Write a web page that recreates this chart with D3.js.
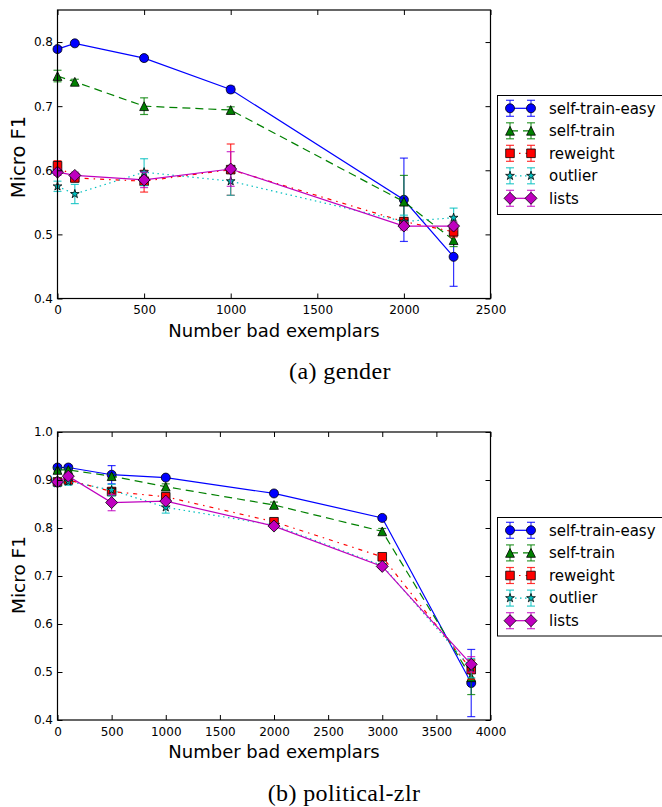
<!DOCTYPE html>
<html>
<head>
<meta charset="utf-8">
<script src="https://cdn.jsdelivr.net/npm/d3@7"></script>
<style>
  body { margin: 0; background: #fff; }
  svg { display: block; }
</style>
</head>
<body>
<svg id="fig" width="662" height="807"></svg>
<script>
// ---- data ----------------------------------------------------------------
const seriesNames = ["self-train-easy", "self-train", "reweight", "outlier", "lists"];

// (a) gender
const genderX        = [0, 100, 500, 1000, 2000, 2287];
const genderEasy     = [0.789, 0.798, 0.775, 0.726, 0.554, 0.465];
const genderEasyErr  = [0.004, 0.003, 0.004, 0.005, 0.065, 0.046];
const genderSelf     = [0.747, 0.738, 0.700, 0.694, 0.551, 0.491];
const genderSelfErr  = [0.009, 0.004, 0.013, 0.005, 0.041, 0.010];
const genderRew      = [0.607, 0.588, 0.583, 0.601, 0.520, 0.504];
const genderRewErr   = [0.008, 0.006, 0.017, 0.040, 0.006, 0.008];
const genderOut      = [0.575, 0.563, 0.597, 0.583, 0.520, 0.526];
const genderOutErr   = [0.008, 0.015, 0.021, 0.022, 0.010, 0.015];
const genderLists    = [0.597, 0.592, 0.585, 0.602, 0.513, 0.513];
const genderListsErr = [0.005, 0.005, 0.012, 0.027, 0.006, 0.006];
const genderXTicks   = [0, 500, 1000, 1500, 2000, 2500];
const genderYTicks   = [0.4, 0.5, 0.6, 0.7, 0.8];

// (b) political-zlr
const polX        = [0, 100, 500, 1000, 2000, 3000, 3822];
const polEasy     = [0.926, 0.926, 0.911, 0.905, 0.872, 0.821, 0.477];
const polEasyErr  = [0.004, 0.004, 0.019, 0.004, 0.004, 0.004, 0.070];
const polSelf     = [0.921, 0.921, 0.908, 0.886, 0.848, 0.793, 0.489];
const polSelfErr  = [0.004, 0.004, 0.004, 0.006, 0.006, 0.006, 0.036];
const polRew      = [0.896, 0.900, 0.876, 0.865, 0.813, 0.740, 0.505];
const polRewErr   = [0.006, 0.006, 0.008, 0.006, 0.004, 0.004, 0.020];
const polOut      = [0.893, 0.897, 0.879, 0.843, 0.806, 0.722, 0.508];
const polOutErr   = [0.006, 0.008, 0.012, 0.012, 0.004, 0.004, 0.020];
const polLists    = [0.896, 0.908, 0.853, 0.856, 0.804, 0.720, 0.516];
const polListsErr = [0.005, 0.005, 0.017, 0.005, 0.004, 0.004, 0.016];
const polXTicks   = [0, 500, 1000, 1500, 2000, 2500, 3000, 3500, 4000];
const polYTicks   = [0.4, 0.5, 0.6, 0.7, 0.8, 0.9, 1.0];

// ---- marker shapes (custom d3.symbol types; "size" is the half-extent) ----
const mCircle = { draw(ctx, r) { ctx.moveTo(r, 0); ctx.arc(0, 0, r, 0, 2 * Math.PI); ctx.closePath(); } };
const mTriangle = { draw(ctx, r) { ctx.moveTo(0, -r); ctx.lineTo(r, r); ctx.lineTo(-r, r); ctx.closePath(); } };
const mSquare = { draw(ctx, r) { ctx.rect(-r, -r, 2 * r, 2 * r); } };
const mDiamond = { draw(ctx, r) { ctx.moveTo(0, -r); ctx.lineTo(r, 0); ctx.lineTo(0, r); ctx.lineTo(-r, 0); ctx.closePath(); } };
const mStar = { draw(ctx, r) {
  const ri = r * 0.381966;
  for (let k = 0; k < 10; k++) {
    const a = -Math.PI / 2 + k * Math.PI / 5;
    const rr = k % 2 === 0 ? r : ri;
    const px = rr * Math.cos(a), py = rr * Math.sin(a);
    if (k === 0) ctx.moveTo(px, py); else ctx.lineTo(px, py);
  }
  ctx.closePath();
} };

const styles = [
  { color: "#0000ff", dash: null,           shape: mCircle,   size: 4.5 },
  { color: "#008000", dash: "8,5",          shape: mTriangle, size: 4.4 },
  { color: "#ff0000", dash: "4,5,1.5,5",    shape: mSquare,   size: 4.3 },
  { color: "#00bfbf", dash: "1.5,3.5",      shape: mStar,     size: 4.6 },
  { color: "#bf00bf", dash: null,           shape: mDiamond,  size: 6.0 }
];

const FONT = "DejaVu Sans";
const svg = d3.select("#fig");

function drawPanel(cfg) {
  const x = d3.scaleLinear().domain(cfg.xDomain).range([cfg.left, cfg.right]);
  const y = d3.scaleLinear().domain(cfg.yDomain).range([cfg.bottom, cfg.top]);
  const g = svg.append("g");

  // series: error bars, connecting line, markers
  cfg.series.forEach((s, i) => {
    const st = styles[i];
    const pts = cfg.xs.map((xv, j) => ({ x: xv, y: s.vals[j], e: s.errs[j] }));
    const sg = g.append("g");

    const eb = sg.append("g").attr("stroke", st.color).attr("stroke-width", 1.2)
      .attr("stroke-opacity", 0.8).attr("fill", "none");
    pts.forEach(p => {
      const cx = x(p.x), y0 = y(p.y - p.e), y1 = y(p.y + p.e);
      eb.append("line").attr("x1", cx).attr("x2", cx).attr("y1", y0).attr("y2", y1);
      eb.append("line").attr("x1", cx - 4).attr("x2", cx + 4).attr("y1", y0).attr("y2", y0);
      eb.append("line").attr("x1", cx - 4).attr("x2", cx + 4).attr("y1", y1).attr("y2", y1);
    });

    sg.append("path").datum(pts)
      .attr("fill", "none").attr("stroke", st.color).attr("stroke-width", 1.2)
      .attr("stroke-dasharray", st.dash)
      .attr("d", d3.line().x(p => x(p.x)).y(p => y(p.y)));

    const sym = d3.symbol().type(st.shape).size(st.size);
    sg.selectAll("path.mk").data(pts).join("path").attr("class", "mk")
      .attr("transform", p => `translate(${x(p.x)},${y(p.y)})`)
      .attr("d", sym)
      .attr("fill", st.color).attr("stroke", "#000").attr("stroke-width", 0.8);
  });

  // axes with inward ticks on all four sides
  const axStyle = a => {
    a.select(".domain").remove();
    a.selectAll(".tick line").attr("stroke", "#000").attr("stroke-width", 1);
    a.selectAll("text").attr("font-family", FONT).attr("font-size", 12).attr("fill", "#000");
  };
  g.append("g").attr("transform", `translate(0,${cfg.bottom})`)
    .call(d3.axisBottom(x).tickValues(cfg.xTicks).tickSize(-5).tickPadding(7).tickFormat(d3.format("d")))
    .call(axStyle);
  g.append("g").attr("transform", `translate(0,${cfg.top})`)
    .call(d3.axisTop(x).tickValues(cfg.xTicks).tickSize(-5).tickFormat(""))
    .call(axStyle);
  g.append("g").attr("transform", `translate(${cfg.left},0)`)
    .call(d3.axisLeft(y).tickValues(cfg.yTicks).tickSize(-5).tickPadding(4.5).tickFormat(d3.format(".1f")))
    .call(axStyle);
  g.append("g").attr("transform", `translate(${cfg.right},0)`)
    .call(d3.axisRight(y).tickValues(cfg.yTicks).tickSize(-5).tickFormat(""))
    .call(axStyle);

  // frame
  g.append("rect")
    .attr("x", cfg.left).attr("y", cfg.top)
    .attr("width", cfg.right - cfg.left).attr("height", cfg.bottom - cfg.top)
    .attr("fill", "none").attr("stroke", "#000").attr("stroke-width", 1.2);

  // axis titles
  g.append("text").attr("x", (cfg.left + cfg.right) / 2).attr("y", cfg.xLabelY)
    .attr("text-anchor", "middle").attr("font-family", FONT).attr("font-size", 18)
    .text("Number bad exemplars");
  g.append("text")
    .attr("transform", `translate(25,${cfg.yLabelMid}) rotate(-90)`)
    .attr("text-anchor", "middle").attr("font-family", FONT).attr("font-size", cfg.yLabelSize)
    .text("Micro F1");

  // legend
  const lg = g.append("g");
  lg.append("rect").attr("x", 497.5).attr("y", cfg.legendTop)
    .attr("width", 200).attr("height", cfg.legendH)
    .attr("fill", "#fff").attr("stroke", "#000").attr("stroke-width", 1);
  seriesNames.forEach((name, i) => {
    const st = styles[i];
    const ly = cfg.legendTop + 12.8 + i * cfg.legendStep;
    const xs = [510, 531];
    const eg = lg.append("g").attr("stroke", st.color).attr("stroke-width", 1.2).attr("stroke-opacity", 0.8);
    xs.forEach(cx => {
      eg.append("line").attr("x1", cx).attr("x2", cx).attr("y1", ly - 8).attr("y2", ly + 8);
      eg.append("line").attr("x1", cx - 4).attr("x2", cx + 4).attr("y1", ly - 8).attr("y2", ly - 8);
      eg.append("line").attr("x1", cx - 4).attr("x2", cx + 4).attr("y1", ly + 8).attr("y2", ly + 8);
    });
    lg.append("line").attr("x1", xs[0]).attr("x2", xs[1]).attr("y1", ly).attr("y2", ly)
      .attr("stroke", st.color).attr("stroke-width", 1.2).attr("stroke-dasharray", st.dash);
    const sym = d3.symbol().type(st.shape).size(st.size);
    xs.forEach(cx => {
      lg.append("path").attr("transform", `translate(${cx},${ly})`).attr("d", sym)
        .attr("fill", st.color).attr("stroke", "#000").attr("stroke-width", 0.8);
    });
    lg.append("text").attr("x", 549).attr("y", ly).attr("dy", "0.35em")
      .attr("font-family", FONT).attr("font-size", 15).text(name);
  });

  // caption
  g.append("text").attr("x", cfg.capX).attr("y", cfg.capY).attr("text-anchor", "middle")
    .attr("font-family", "Liberation Serif").attr("font-size", 24).attr("letter-spacing", 0.4)
    .text(cfg.caption);
}

drawPanel({
  xs: genderX,
  series: [
    { vals: genderEasy, errs: genderEasyErr },
    { vals: genderSelf, errs: genderSelfErr },
    { vals: genderRew, errs: genderRewErr },
    { vals: genderOut, errs: genderOutErr },
    { vals: genderLists, errs: genderListsErr }
  ],
  xDomain: [0, 2500], yDomain: [0.4, 0.85],
  xTicks: genderXTicks, yTicks: genderYTicks,
  left: 57.5, right: 490.5, top: 10, bottom: 298.5,
  xLabelY: 336.5, yLabelMid: 157, yLabelSize: 19.5,
  legendTop: 95.5, legendH: 119, legendStep: 22.5,
  caption: "(a) gender", capX: 340, capY: 379
});

drawPanel({
  xs: polX,
  series: [
    { vals: polEasy, errs: polEasyErr },
    { vals: polSelf, errs: polSelfErr },
    { vals: polRew, errs: polRewErr },
    { vals: polOut, errs: polOutErr },
    { vals: polLists, errs: polListsErr }
  ],
  xDomain: [0, 4000], yDomain: [0.4, 1.0],
  xTicks: polXTicks, yTicks: polYTicks,
  left: 57.5, right: 490.5, top: 432, bottom: 720,
  xLabelY: 757.5, yLabelMid: 575, yLabelSize: 18.5,
  legendTop: 517.5, legendH: 118.5, legendStep: 22.6,
  caption: "(b) political-zlr", capX: 344, capY: 801
});
</script>
</body>
</html>
